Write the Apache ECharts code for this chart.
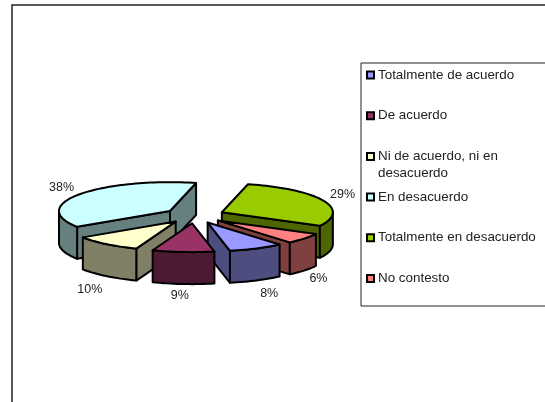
<!DOCTYPE html>
<html><head><meta charset="utf-8">
<style>html,body{margin:0;padding:0;background:#fff}#c{width:545px;height:402px}</style>
<script src="https://cdn.jsdelivr.net/npm/echarts@6/dist/echarts.min.js"></script>
</head><body><div id="c"></div>
<script>
const categories = ['Totalmente de acuerdo','De acuerdo','Ni de acuerdo, ni en desacuerdo','En desacuerdo','Totalmente en desacuerdo','No contesto'];
const legendLines = [['Totalmente de acuerdo'],['De acuerdo'],['Ni de acuerdo, ni en','desacuerdo'],['En desacuerdo'],['Totalmente en desacuerdo'],['No contesto']];
const values = [8,9,10,38,29,6];
const topColors = ['#9999FF','#993366','#FFFFCC','#CCFFFF','#99CC00','#FF8080'];
const sideColors = ['#4D4D80','#4D1A33','#808066','#668080','#4D6600','#804040'];
const labelNudge = [[5,3],[-2,2],[-5,3],[-3,0],[3,1],[0,-2]];

const CX=194.5, CY=215.5, RX=111, K=0.26, EXPLODE=30, DEPTH=32, START=49.6;
const total = values.reduce((a,b)=>a+b,0);
const rad = d=>d*Math.PI/180;
const slices = []; let acc = START;
values.forEach((v,i)=>{ const s=acc, e=acc+v/total*360; acc=e; slices.push({i,s,e,m:(s+e)/2}); });
const order = slices.slice().sort((a,b)=>Math.sin(rad(a.m))-Math.sin(rad(b.m)));

function pt(c,a,r){ return [c[0]+r*Math.cos(rad(a)), c[1]+r*K*Math.sin(rad(a))]; }
function down(p){ return [p[0],p[1]+DEPTH]; }
const outline = {stroke:'#000',lineWidth:2,lineJoin:'round'};

function renderItem(params, api){
  const sl = slices[api.value(1)];
  const c = pt([CX,CY],sl.m,EXPLODE);
  const top = topColors[sl.i], side = sideColors[sl.i];
  const kids = [];
  const poly = (pts,fill)=>({type:'polygon',shape:{points:pts},style:Object.assign({fill},outline)});
  const face = a=>{ const p=pt(c,a,RX); return poly([c,p,down(p),down(c)],side); };
  if(Math.cos(rad(sl.s))<0) kids.push(face(sl.s));
  if(Math.cos(rad(sl.e))>0) kids.push(face(sl.e));
  for(const [lo,hi] of [[0,180],[360,540]]){
    const a=Math.max(sl.s,lo), b=Math.min(sl.e,hi);
    if(b>a){
      const upper=[],lower=[];
      const n=Math.ceil((b-a)/2);
      for(let j=0;j<=n;j++){ const p=pt(c,a+(b-a)*j/n,RX); upper.push(p); lower.unshift(down(p)); }
      kids.push(poly(upper.concat(lower),side));
    }
  }
  const arc=[c]; const n=Math.ceil((sl.e-sl.s)/2);
  for(let j=0;j<=n;j++) arc.push(pt(c,sl.s+(sl.e-sl.s)*j/n,RX));
  kids.push(poly(arc,top));
  const rim=pt(c,sl.m,RX), sn=Math.sin(rad(sl.m)), cs=Math.cos(rad(sl.m));
  const nd=labelNudge[sl.i];
  kids.push({type:'text',style:{text:api.value(0)+'%',x:rim[0]+18*cs+nd[0],y:rim[1]+(sn>0?DEPTH+10:-7)+nd[1],
    align:'center',verticalAlign:'middle',fill:'#222',font:'12.5px "Liberation Sans"'}});
  return {type:'group',children:kids};
}

const legendX=361, legendY=63, legendW=190, legendH=243, rowStep=40.7, lineH=16.6, firstRow=75;
const gfx=[
 {type:'polyline',shape:{points:[[548,5],[12,5],[12,405]]},style:{stroke:'#222',lineWidth:1.5,fill:null}},
 {type:'rect',shape:{x:legendX,y:legendY,width:legendW,height:legendH},style:{stroke:'#222',lineWidth:1,fill:'#fff'}}
];
legendLines.forEach((ls,i)=>{
  const y=firstRow+rowStep*i;
  gfx.push({type:'rect',shape:{x:legendX+6,y:y-3.5,width:7,height:7},style:{fill:topColors[i],stroke:'#000',lineWidth:2}});
  ls.forEach((t,j)=>gfx.push({type:'text',style:{text:t,x:legendX+17,y:y+j*lineH,verticalAlign:'middle',fill:'#222',font:'13.4px "Liberation Sans"'}}));
});

const chart=echarts.init(document.getElementById('c'),null,{renderer:'canvas'});
chart.setOption({
  animation:false,
  graphic:gfx,
  series:[{type:'custom',coordinateSystem:'none',renderItem,silent:true,
    data:order.map(s=>({name:categories[s.i],value:[values[s.i],s.i]}))}]
});
</script></body></html>
